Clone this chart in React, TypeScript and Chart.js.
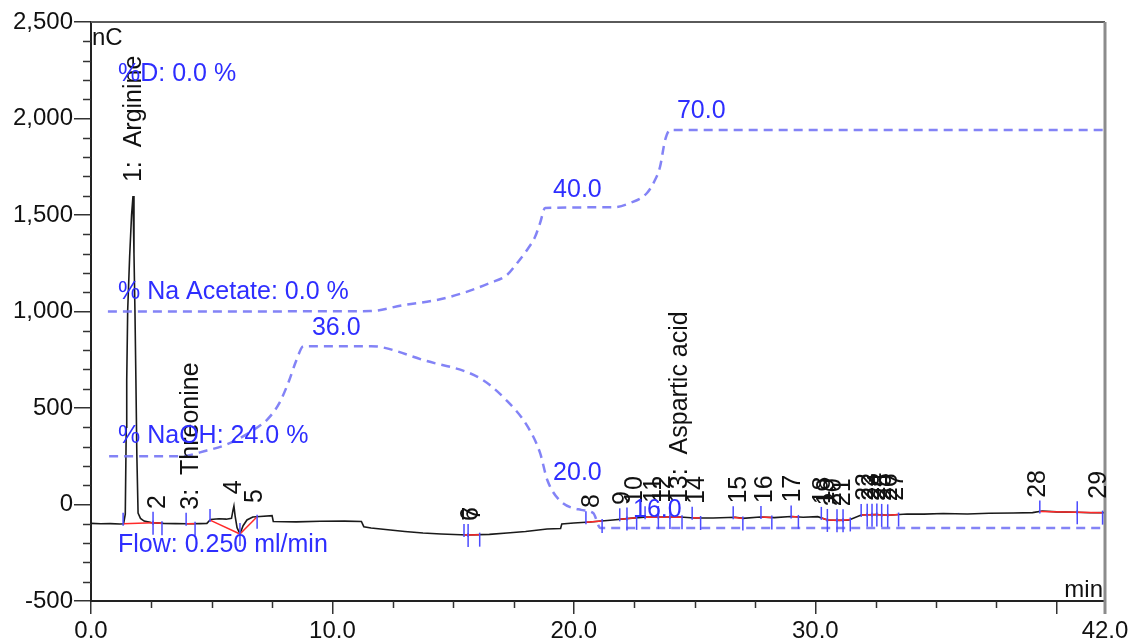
import { useEffect, useRef } from 'react';
import { Chart, registerables } from 'chart.js';

Chart.register(...registerables);

// Detector trace (retention time in min, response in nC)
const timeMin = [
  0.0, 0.4, 0.8, 1.2, 1.35, 1.42, 1.46, 1.48, 1.52, 1.6, 1.68, 1.74, 1.78, 1.82, 1.86, 1.9, 1.95,
  2.05, 2.2, 2.5, 3.0, 3.5, 4.0, 4.5, 4.8, 4.95, 5.3, 5.6, 5.82, 5.88, 5.92, 5.97, 6.05, 6.17,
  6.3, 6.46, 6.7, 7.0, 7.5, 7.55, 8.5, 9.5, 10.5, 11.2, 11.3, 11.6, 12.0, 13.0, 13.75, 14.5,
  15.58, 16.5, 17.23, 18.0, 18.89, 19.45, 19.5, 20.0, 20.67, 21.62, 22.3, 23.03, 24.4, 25.0,
  25.77, 26.7, 27.0, 27.71, 28.3, 29.0, 29.5, 30.1, 30.5, 31.0, 31.4, 31.9, 32.5, 33.0, 33.8,
  34.5, 35.3, 36.3, 37.2, 38.2, 39.0, 39.4, 40.0, 40.8, 41.4, 42.0,
];
const signalNC = [
  -98, -100, -99, -101, -100, -50, 400, 645, 1008, 1282, 1500, 1598, 1300, 1008, 645, 250, -45,
  -72, -86, -94, -98, -99, -100, -99, -98, -78, -74, -76, -72, -30, -8, -60, -120, -153,
  -110, -80, -65, -62, -58, -88, -90, -87, -86, -88, -115, -122, -127, -140, -148, -153,
  -158, -155, -148, -140, -127, -124, -101, -96, -91, -80, -72, -65, -65, -70,
  -70, -66, -72, -65, -68, -62, -66, -63, -80, -82, -80, -54, -52, -56, -49,
  -50, -47, -49, -45, -44, -42, -34, -38, -40, -43, -42,
];

// Eluent profiles, drawn on the nC scale
const naohTime = [0.75, 3.7, 4.8, 5.6, 6.9, 7.3, 7.8, 8.2, 8.5, 8.8, 11.6, 12.0, 13.75, 16.1, 17.2, 18.1, 18.6, 18.9, 19.4, 20.3, 20.8, 21.1, 42];
const naohLevel = [250, 250, 280, 310, 400, 440, 525, 640, 745, 820, 820, 816, 749, 655, 541, 401, 267, 127, 23, -28, -44, -122, -122];
const acetateTime = [0.7, 11.56, 12.92, 14.33, 15.41, 16.53, 17.23, 17.65, 18.06, 18.39, 18.6, 18.81, 21.62, 22.33, 23.03, 23.36, 23.57, 23.78, 23.99, 42];
const acetateLevel = [1000, 1002, 1033, 1060, 1096, 1148, 1189, 1251, 1319, 1386, 1458, 1536, 1540, 1562, 1614, 1681, 1750, 1888, 1940, 1940];

// Integrated peaks
const peakNames = [
  '1:  Arginine', '2', '3:  Threonine', '4', '5', '6', '7', '8', '9', '10', '11', '12',
  '13:  Aspartic acid', '14', '15', '16', '17', '18', '19', '20', '21', '22', '23', '24',
  '25', '26', '27', '28', '29',
];
const peakTimes = [1.74, 2.75, 4.1, 5.9, 6.75, 15.7, 15.8, 20.73, 21.98, 22.5, 23.3, 23.65, 24.35, 25.05, 26.8, 27.9, 29.05, 30.3, 30.45, 30.75, 31.1, 32.05, 32.3, 32.55, 32.8, 33.05, 33.3, 39.2, 41.7];
const peakStarts = [1.33, 2.57, 3.94, 4.93, 6.17, 15.45, 15.62, 20.5, 21.9, 22.2, 22.95, 23.5, 23.98, 24.9, 26.6, 27.75, 29.0, 30.25, 30.5, 30.9, 31.15, 31.9, 32.15, 32.35, 32.55, 32.75, 33.0, 39.3, 40.85];
const peakEnds = [2.57, 2.94, 4.31, 6.17, 6.88, 15.62, 16.1, 21.17, 22.2, 22.6, 23.5, 23.98, 24.48, 25.25, 27.0, 28.2, 29.3, 30.5, 30.9, 31.15, 31.45, 32.15, 32.35, 32.55, 32.75, 33.0, 33.45, 40.85, 41.9];

// Method annotations (text, time, nC)
const noteTexts = ['%D: 0.0 %', '% Na Acetate: 0.0 %', '% NaOH: 24.0 %', 'Flow: 0.250 ml/min', '36.0', '40.0', '70.0', '20.0', '16.0'];
const noteTimes = [1.12, 1.12, 1.12, 1.12, 9.15, 19.14, 24.27, 19.14, 22.45];
const noteValues = [2195, 1065, 319, -246, 878, 1593, 2002, 127, -65];

const yTickValues = [-500, 0, 500, 1000, 1500, 2000, 2500];
const xTickValues = [0, 10, 20, 30, 40, 42];
const xTickLabels = ['0.0', '10.0', '20.0', '30.0', '', '42.0'];

const FONT = '"Liberation Sans", Arial, sans-serif';
const BLUE_TEXT = '#2e2eff';
const DASH_BLUE = 'rgba(118,118,245,0.9)';

function signalAt(t: number): number {
  if (t <= timeMin[0]) return signalNC[0];
  for (let i = 1; i < timeMin.length; i++) {
    if (t <= timeMin[i]) {
      const f = (t - timeMin[i - 1]) / (timeMin[i] - timeMin[i - 1]);
      return signalNC[i - 1] + f * (signalNC[i] - signalNC[i - 1]);
    }
  }
  return signalNC[signalNC.length - 1];
}

const overlayPlugin = {
  id: 'chromatogramOverlay',
  afterDatasetsDraw(chart: any) {
    const { ctx, chartArea: a } = chart;
    const x = chart.scales.x;
    const y = chart.scales.y;
    const line = (x1: number, y1: number, x2: number, y2: number) => {
      ctx.beginPath();
      ctx.moveTo(x1, y1);
      ctx.lineTo(x2, y2);
      ctx.stroke();
    };
    ctx.save();

    // minor ticks
    ctx.strokeStyle = '#333';
    ctx.lineWidth = 1.5;
    for (let v = -400; v < 2500; v += 100) {
      if (v % 500 === 0) continue;
      const py = Math.round(y.getPixelForValue(v)) + 0.5;
      line(a.left - 8, py, a.left, py);
    }
    for (let t = 2.5; t < 42; t += 2.5) {
      if (t % 10 === 0) continue;
      const px = Math.round(x.getPixelForValue(t)) + 0.5;
      line(px, a.bottom, px, a.bottom + 7);
    }

    // frame
    ctx.strokeStyle = '#5a5a5a';
    ctx.lineWidth = 2;
    line(a.left, a.top, a.right, a.top);
    ctx.strokeStyle = '#8c8c8c';
    ctx.lineWidth = 3;
    line(a.right, a.top, a.right, a.bottom + 13);

    // peak baselines and delimiters
    for (let i = 0; i < peakNames.length; i++) {
      const xs = x.getPixelForValue(peakStarts[i]);
      const xe = x.getPixelForValue(peakEnds[i]);
      const ys = y.getPixelForValue(signalAt(peakStarts[i]));
      const ye = y.getPixelForValue(signalAt(peakEnds[i]));
      ctx.strokeStyle = '#ff2a2a';
      ctx.lineWidth = 1.5;
      line(xs, ys, xe, ye);
      ctx.strokeStyle = '#4b4bff';
      ctx.lineWidth = 1.5;
      line(xs, ys - 11, xs, ys + 2);
      line(xe, ye - 2, xe, ye + 12);
    }

    // peak names
    ctx.fillStyle = '#111';
    ctx.font = `25px ${FONT}`;
    ctx.textAlign = 'left';
    ctx.textBaseline = 'middle';
    for (let i = 0; i < peakNames.length; i++) {
      const px = x.getPixelForValue(peakTimes[i]);
      const py = y.getPixelForValue(signalAt(peakTimes[i])) - 14;
      ctx.save();
      ctx.translate(px, py);
      ctx.rotate(-Math.PI / 2);
      ctx.fillText(peakNames[i], 0, 1);
      ctx.restore();
    }

    // method annotations
    ctx.fillStyle = BLUE_TEXT;
    ctx.font = `25px ${FONT}`;
    ctx.textBaseline = 'alphabetic';
    ctx.textAlign = 'left';
    for (let i = 0; i < noteTexts.length; i++) {
      ctx.fillText(noteTexts[i], x.getPixelForValue(noteTimes[i]), y.getPixelForValue(noteValues[i]));
    }

    // units
    ctx.fillStyle = '#111';
    ctx.font = `24px ${FONT}`;
    ctx.textAlign = 'left';
    ctx.fillText('nC', a.left + 1, a.top + 23);
    ctx.textAlign = 'right';
    ctx.fillText('min', a.right - 2, a.bottom - 4);

    ctx.restore();
  },
};

export default function App() {
  const canvasRef = useRef<HTMLCanvasElement | null>(null);

  useEffect(() => {
    const prevMargin = document.body.style.margin;
    document.body.style.margin = '0';
    const canvas = canvasRef.current;
    if (!canvas) return;

    const trace = timeMin.map((t, i) => ({ x: t, y: signalNC[i] }));
    const naoh = naohTime.map((t, i) => ({ x: t, y: naohLevel[i] }));
    const acetate = acetateTime.map((t, i) => ({ x: t, y: acetateLevel[i] }));

    const chart = new Chart(canvas, {
      type: 'line',
      data: {
        datasets: [
          {
            label: '% Na Acetate',
            data: acetate,
            borderColor: DASH_BLUE,
            borderWidth: 2.5,
            borderDash: [9, 6],
            cubicInterpolationMode: 'monotone',
            pointRadius: 0,
            fill: false,
          },
          {
            label: '% NaOH',
            data: naoh,
            borderColor: DASH_BLUE,
            borderWidth: 2.5,
            borderDash: [9, 6],
            cubicInterpolationMode: 'monotone',
            pointRadius: 0,
            fill: false,
          },
          {
            label: 'nC',
            data: trace,
            borderColor: '#1a1a1a',
            borderWidth: 1.6,
            tension: 0,
            pointRadius: 0,
            fill: false,
          },
        ],
      },
      options: {
        responsive: false,
        animation: false,
        devicePixelRatio: 1,
        layout: { padding: { top: 22, right: 28, left: 0, bottom: 0 } },
        plugins: { legend: { display: false }, tooltip: { enabled: false } },
        font: { family: FONT },
        scales: {
          x: {
            type: 'linear',
            min: 0,
            max: 42,
            afterBuildTicks: (s: any) => {
              s.ticks = xTickValues.map((v) => ({ value: v }));
            },
            afterFit: (s: any) => {
              s.height = 40;
            },
            ticks: {
              autoSkip: false,
              maxRotation: 0,
              padding: 3,
              color: '#111',
              font: { size: 24, family: FONT },
              callback: (_v: any, i: number) => xTickLabels[i],
            },
            grid: { drawOnChartArea: false, tickLength: 13, color: '#333', lineWidth: 1.5 },
            border: { display: true, color: '#222', width: 2 },
          },
          y: {
            type: 'linear',
            min: -500,
            max: 2500,
            afterBuildTicks: (s: any) => {
              s.ticks = yTickValues.map((v) => ({ value: v }));
            },
            afterFit: (s: any) => {
              s.width = 91;
            },
            ticks: {
              padding: 1,
              color: '#111',
              font: { size: 24, family: FONT },
              callback: (v: any) => Number(v).toLocaleString('en-US'),
            },
            grid: { drawOnChartArea: false, tickLength: 17, color: '#333', lineWidth: 1.5 },
            border: { display: true, color: '#222', width: 2 },
          },
        },
      } as any,
      plugins: [overlayPlugin],
    });

    return () => {
      chart.destroy();
      document.body.style.margin = prevMargin;
    };
  }, []);

  return <canvas ref={canvasRef} width={1133} height={641} style={{ display: 'block' }} />;
}
